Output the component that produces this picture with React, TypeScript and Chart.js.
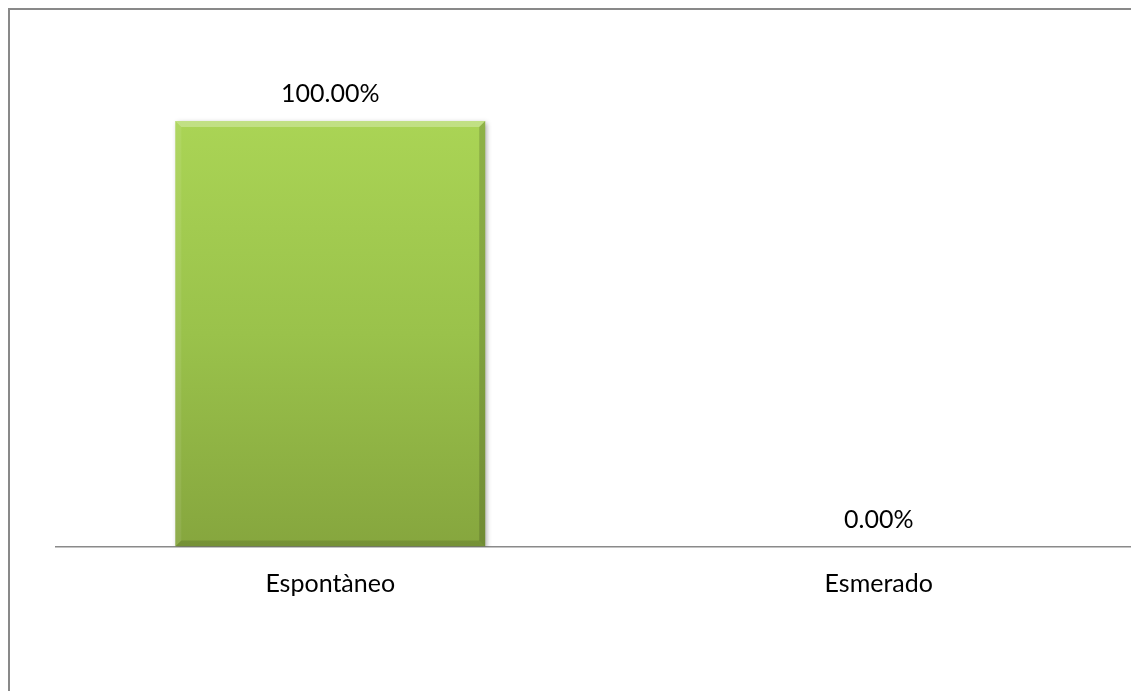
import React, { useEffect, useRef } from "react";
import { Chart, registerables } from "chart.js";

Chart.register(...registerables);

const categories = ["Espontàneo", "Esmerado"];
const values = [1.0, 0.0];
const valueLabels = ["100.00%", "0.00%"];
const yMax = 1.2;

const FONT = "Lato, 'Open Sans', sans-serif";

const bevelPlugin = {
  id: "bevel",
  beforeDatasetsDraw(chart: any) {
    const ctx = chart.ctx;
    ctx.save();
    ctx.shadowColor = "rgba(0,0,0,0.35)";
    ctx.shadowBlur = 5;
    ctx.shadowOffsetX = 2;
    ctx.shadowOffsetY = 2;
  },
  afterDatasetsDraw(chart: any) {
    const ctx = chart.ctx;
    ctx.restore();
    const meta = chart.getDatasetMeta(0);
    meta.data.forEach((el: any) => {
      const x0 = el.x - el.width / 2;
      const x1 = el.x + el.width / 2;
      const y0 = Math.min(el.y, el.base);
      const y1 = Math.max(el.y, el.base);
      if (y1 - y0 < 2) return;
      const b = 6;
      const poly = (pts: number[][], color: string) => {
        ctx.beginPath();
        ctx.moveTo(pts[0][0], pts[0][1]);
        for (let i = 1; i < pts.length; i++) ctx.lineTo(pts[i][0], pts[i][1]);
        ctx.closePath();
        ctx.fillStyle = color;
        ctx.fill();
      };
      poly([[x0, y0], [x1, y0], [x1 - b, y0 + b], [x0 + b, y0 + b]], "rgba(255,255,255,0.28)");
      poly([[x0, y0], [x0 + b, y0 + b], [x0 + b, y1 - b], [x0, y1]], "rgba(255,255,255,0.08)");
      poly([[x1, y0], [x1, y1], [x1 - b, y1 - b], [x1 - b, y0 + b]], "rgba(0,0,0,0.16)");
      poly([[x0, y1], [x0 + b, y1 - b], [x1 - b, y1 - b], [x1, y1]], "rgba(0,0,0,0.12)");
    });
  },
};

const labelPlugin = {
  id: "valueLabels",
  afterDraw(chart: any) {
    const ctx = chart.ctx;
    const meta = chart.getDatasetMeta(0);
    ctx.save();
    ctx.font = `25px ${FONT}`;
    ctx.fillStyle = "#000";
    ctx.textAlign = "center";
    ctx.textBaseline = "middle";
    meta.data.forEach((el: any, i: number) => {
      ctx.fillText(valueLabels[i], el.x, el.y - 27);
    });
    ctx.restore();
  },
};

export default function App() {
  const ref = useRef<HTMLCanvasElement>(null);
  useEffect(() => {
    if (!ref.current) return;
    const chart = new Chart(ref.current, {
      type: "bar",
      data: {
        labels: categories,
        datasets: [
          {
            data: values,
            backgroundColor: (c: any) => {
              const ch = c.chart;
              const area = ch.chartArea;
              if (!area) return "#98c04a";
              const ys = ch.scales.y;
              const top = ys.getPixelForValue(yMax / 1.2);
              const bot = ys.getPixelForValue(0);
              const g = ch.ctx.createLinearGradient(0, top, 0, bot);
              g.addColorStop(0, "#aad455");
              g.addColorStop(0.5, "#9ac24b");
              g.addColorStop(1, "#86a63e");
              return g;
            },
            borderWidth: 0,
            barPercentage: 0.565,
            categoryPercentage: 1,
          },
        ],
      },
      options: {
        responsive: false,
        animation: false,
        layout: { padding: { left: 46, right: 20, top: 26, bottom: 0 } },
        plugins: { legend: { display: false }, tooltip: { enabled: false } },
        scales: {
          x: {
            display: true,
            grid: { display: false },
            border: { display: true, color: "#8a8a8a", width: 1.5 },
            ticks: { font: { family: FONT, size: 25 }, color: "#000", padding: 14 },
            afterFit: (s: any) => {
              s.height = 144.5;
            },
          },
          y: { display: false, min: 0, max: yMax },
        },
      },
      plugins: [bevelPlugin, labelPlugin],
    });
    return () => chart.destroy();
  }, []);
  return (
    <div
      style={{
        position: "fixed",
        left: 8,
        top: 8,
        right: 0,
        bottom: 0,
        borderLeft: "2px solid #898989",
        borderTop: "2px solid #898989",
        overflow: "hidden",
        background: "#fff",
      }}
    >
      <canvas ref={ref} width={1163} height={681} style={{ display: "block", width: 1163, height: 681 }} />
    </div>
  );
}
